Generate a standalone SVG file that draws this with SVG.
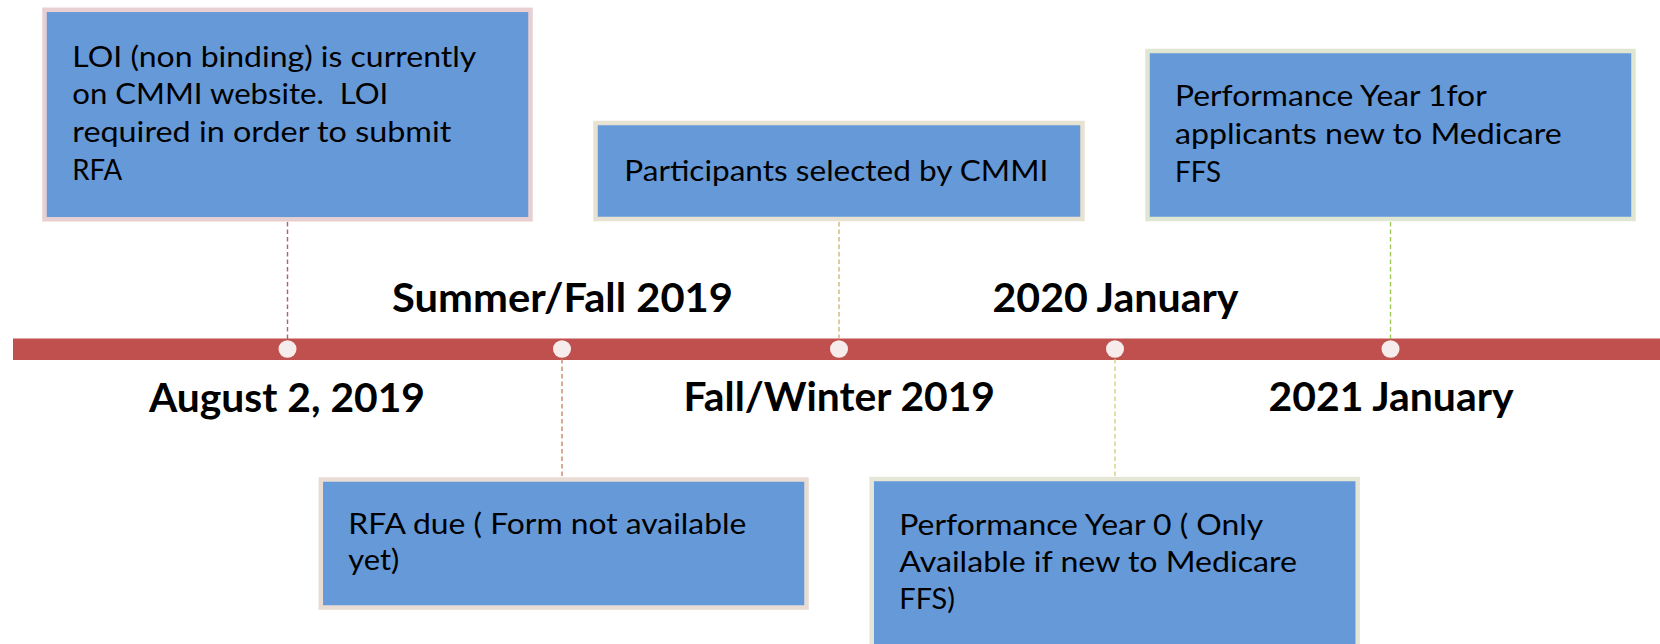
<svg xmlns="http://www.w3.org/2000/svg" width="1660" height="644" viewBox="0 0 1660 644">
  <style>
    .box { fill: #6699d8; stroke-width: 4.5; }
    .body { font-family: Lato, "Liberation Sans", sans-serif; font-size: 29px; fill: #000; white-space: pre; }
    .date { font-family: Lato, "Liberation Sans", sans-serif; font-size: 39.5px; font-weight: bold; fill: #000; }
    .tick { stroke-width: 1.4; stroke-dasharray: 4.5 3; fill: none; }
    .dot { fill: #f6ecec; }
  </style>

  <rect width="1660" height="644" fill="#ffffff"/>

  <!-- timeline bar -->
  <g id="timeline">
    <rect x="13" y="338.5" width="1647" height="21.5" fill="#c0504d"/>
    <ellipse class="dot" cx="287.5" cy="349" rx="9" ry="8.8"/>
    <ellipse class="dot" cx="562" cy="349" rx="9" ry="8.8"/>
    <ellipse class="dot" cx="839" cy="349" rx="9" ry="8.8"/>
    <ellipse class="dot" cx="1115" cy="349" rx="9" ry="8.8"/>
    <ellipse class="dot" cx="1390.5" cy="349" rx="9" ry="8.8"/>
  </g>

  <!-- dashed leaders from the bar to each event box -->
  <g id="connectors">
    <line class="tick" x1="287.5" y1="222" x2="287.5" y2="339" stroke="#c8585a"/>
    <line class="tick" x1="562" y1="359" x2="562" y2="477" stroke="#cc8466"/>
    <line class="tick" x1="839" y1="222" x2="839" y2="339" stroke="#d4b27a"/>
    <line class="tick" x1="1115" y1="359" x2="1115" y2="477" stroke="#d6d07e"/>
    <line class="tick" x1="1390.5" y1="222" x2="1390.5" y2="339" stroke="#9cc85a"/>
  </g>

  <!-- date labels -->
  <g id="dates">
    <text class="date" x="149" y="411.5" textLength="276" lengthAdjust="spacingAndGlyphs">August 2, 2019</text>
    <text class="date" x="392" y="312" textLength="341" lengthAdjust="spacingAndGlyphs">Summer/Fall 2019</text>
    <text class="date" x="683.5" y="411" textLength="311.5" lengthAdjust="spacingAndGlyphs">Fall/Winter 2019</text>
    <text class="date" x="992.5" y="312" textLength="246" lengthAdjust="spacingAndGlyphs">2020 January</text>
    <text class="date" x="1268.5" y="411" textLength="245" lengthAdjust="spacingAndGlyphs">2021 January</text>
  </g>

  <g id="loi">
    <rect class="box" x="44.5" y="9.8" width="486" height="209.5" stroke="#e8d0d2"/>
    <text class="body" x="72.3" y="66.7" textLength="404" lengthAdjust="spacingAndGlyphs">LOI (non binding) is currently</text>
    <text class="body" x="72.3" y="104.3" textLength="316" lengthAdjust="spacingAndGlyphs">on CMMI website.  LOI</text>
    <text class="body" x="72.3" y="142" textLength="379" lengthAdjust="spacingAndGlyphs">required in order to submit</text>
    <text class="body" x="72.3" y="180" textLength="50" lengthAdjust="spacingAndGlyphs">RFA</text>
  </g>

  <g id="rfa-due">
    <rect class="box" x="320.8" y="479.5" width="485.7" height="128" stroke="#e8dcd4"/>
    <text class="body" x="348.3" y="534" textLength="398" lengthAdjust="spacingAndGlyphs">RFA due ( Form not available</text>
    <text class="body" x="348.3" y="570" textLength="51" lengthAdjust="spacingAndGlyphs">yet)</text>
  </g>

  <g id="selection">
    <rect class="box" x="595.5" y="123" width="487" height="96" stroke="#e8e2d2"/>
    <text class="body" x="624.3" y="181" textLength="424" lengthAdjust="spacingAndGlyphs">Participants selected by CMMI</text>
  </g>

  <g id="py0">
    <rect class="box" x="871.7" y="479" width="486" height="180" stroke="#e6e6d6"/>
    <text class="body" x="899.3" y="535" textLength="364" lengthAdjust="spacingAndGlyphs">Performance Year 0 ( Only</text>
    <text class="body" x="899.3" y="572" textLength="397.7" lengthAdjust="spacingAndGlyphs">Available if new to Medicare</text>
    <text class="body" x="899.3" y="609" textLength="55.7" lengthAdjust="spacingAndGlyphs">FFS)</text>
  </g>

  <g id="py1">
    <rect class="box" x="1147.5" y="51" width="486" height="168" stroke="#dfe6d2"/>
    <text class="body" x="1175" y="106" textLength="311.7" lengthAdjust="spacingAndGlyphs">Performance Year 1for</text>
    <text class="body" x="1175" y="144" textLength="386.7" lengthAdjust="spacingAndGlyphs">applicants new to Medicare</text>
    <text class="body" x="1175" y="182.3" textLength="46" lengthAdjust="spacingAndGlyphs">FFS</text>
  </g>
</svg>
